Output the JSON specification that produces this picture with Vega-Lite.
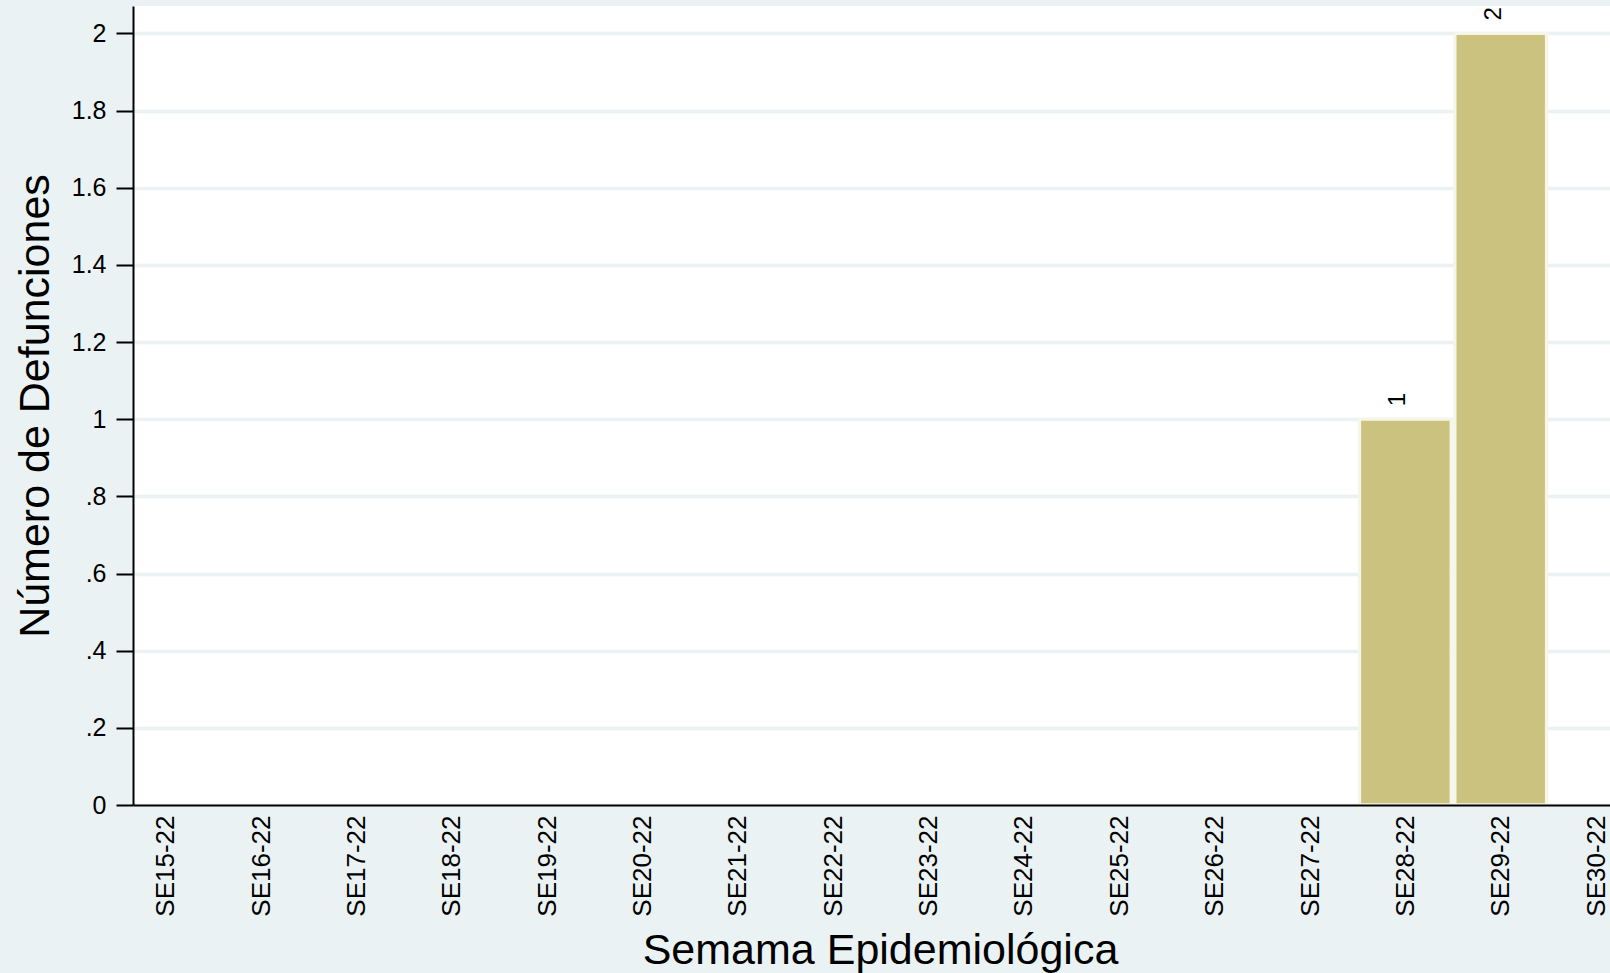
{
  "$schema": "https://vega.github.io/schema/vega-lite/v6.json",
  "width": 1477,
  "height": 799,
  "autosize": {"type": "none"},
  "padding": {"left": 133, "top": 6, "right": 0, "bottom": 168},
  "background": "#EAF2F3",
  "config": {
    "font": "Liberation Sans",
    "view": {"fill": "white", "stroke": null}
  },
  "data": {
    "values": [
      {"semana": 15, "defunciones": 0},
      {"semana": 16, "defunciones": 0},
      {"semana": 17, "defunciones": 0},
      {"semana": 18, "defunciones": 0},
      {"semana": 19, "defunciones": 0},
      {"semana": 20, "defunciones": 0},
      {"semana": 21, "defunciones": 0},
      {"semana": 22, "defunciones": 0},
      {"semana": 23, "defunciones": 0},
      {"semana": 24, "defunciones": 0},
      {"semana": 25, "defunciones": 0},
      {"semana": 26, "defunciones": 0},
      {"semana": 27, "defunciones": 0},
      {"semana": 28, "defunciones": 1},
      {"semana": 29, "defunciones": 2}
    ]
  },
  "transform": [{"filter": "datum.defunciones > 0"}],
  "encoding": {
    "x": {
      "field": "semana",
      "type": "quantitative",
      "scale": {"domain": [14.7083, 30.0938], "nice": false, "zero": false},
      "axis": {
        "values": [15, 16, 17, 18, 19, 20, 21, 22, 23, 24, 25, 26, 27, 28, 29, 30],
        "labelExpr": "'SE' + datum.value + '-22'",
        "labelAngle": -90,
        "labelFontSize": 26,
        "labelColor": "black",
        "labelPadding": 10,
        "labelOverlap": false,
        "labelFlush": false,
        "labelBound": false,
        "ticks": false,
        "grid": false,
        "domainColor": "black",
        "domainWidth": 2,
        "title": "Semama Epidemiológica",
        "titleFontSize": 43,
        "titleFontWeight": "normal",
        "titleColor": "black",
        "titleX": 747,
        "titleY": 158,
        "titleAlign": "center",
        "titleBaseline": "alphabetic",
        "zindex": 1
      }
    },
    "y": {
      "field": "defunciones",
      "type": "quantitative",
      "scale": {"domain": [0, 2.071], "nice": false},
      "axis": {
        "values": [0, 0.2, 0.4, 0.6, 0.8, 1, 1.2, 1.4, 1.6, 1.8, 2],
        "labelExpr": "datum.value == 0 ? '0' : (datum.value < 1 ? substring(format(datum.value, '.1f'), 1) : format(datum.value, '.1~f'))",
        "labelFontSize": 25,
        "labelColor": "black",
        "labelPadding": 10,
        "labelOverlap": false,
        "labelFlush": false,
        "tickSize": 17,
        "tickWidth": 2,
        "tickColor": "black",
        "domainColor": "black",
        "domainWidth": 2,
        "grid": true,
        "gridColor": "#EAF2F3",
        "gridWidth": 3.3,
        "title": "Número de Defunciones",
        "titleFontSize": 43,
        "titleFontWeight": "normal",
        "titleColor": "black",
        "titleX": -85,
        "titleBaseline": "alphabetic",
        "titleAngle": 270
      }
    }
  },
  "layer": [
    {
      "mark": {
        "type": "bar",
        "width": 91.7,
        "color": "#CBC27F",
        "stroke": "#F6F5EA",
        "strokeWidth": 3.3
      }
    },
    {
      "mark": {
        "type": "text",
        "angle": 270,
        "align": "left",
        "baseline": "alphabetic",
        "dx": 13,
        "fontSize": 24,
        "color": "black"
      },
      "encoding": {
        "text": {"field": "defunciones", "type": "quantitative"}
      }
    }
  ]
}
